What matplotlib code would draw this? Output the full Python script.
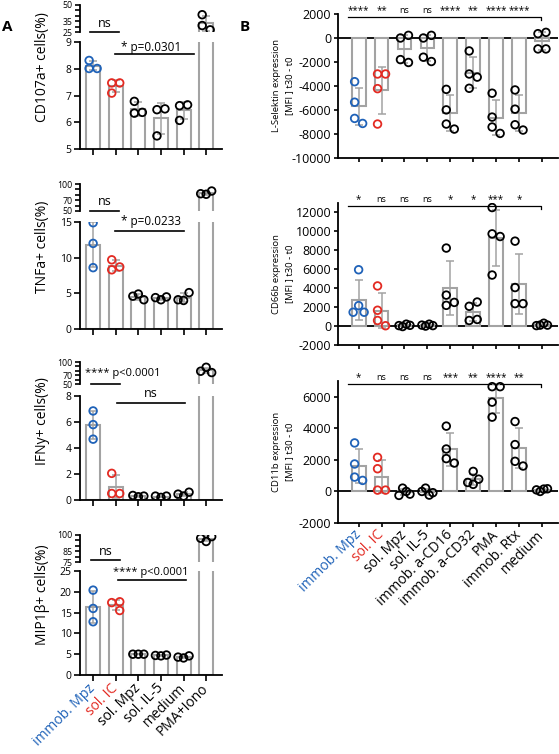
import numpy as np
import matplotlib
matplotlib.use('Agg')
import matplotlib.pyplot as plt
from matplotlib.transforms import blended_transform_factory

plt.rcParams['font.family'] = ['Open Sans', 'DejaVu Sans']

# ---- data ----
groups_a = ['immob. Mpz', 'sol. IC', 'sol. Mpz', 'sol. IL-5', 'medium', 'PMA+Iono']
cd107a = [[8.31, 8.01, 8.01], [7.47, 7.47, 7.09], [6.78, 6.34, 6.37],
          [6.47, 6.50, 5.49], [6.62, 6.65, 6.07], [41, 31, 27]]
tnfa = [[14.9, 12.0, 8.6], [9.7, 8.3, 8.7], [4.9, 4.1, 4.6],
        [4.1, 4.5, 4.4], [4.0, 5.1, 4.1], [81, 87, 82]]
ifny = [[6.85, 5.8, 4.68], [2.05, 0.5, 0.5], [0.25, 0.3, 0.35],
        [0.2, 0.3, 0.3], [0.3, 0.6, 0.45], [88, 76, 79]]
mip1b = [[20.4, 16.0, 12.8], [17.4, 17.6, 15.5], [5.0, 5.0, 5.0],
         [4.6, 4.8, 4.7], [4.1, 4.6, 4.3], [94, 98.5, 97]]

groups_b = ['immob. Mpz', 'sol. IC', 'sol. Mpz', 'sol. IL-5', 'immob. a-CD16',
            'immob. a-CD32', 'PMA', 'immob. Rtx', 'medium']
lsel = [[-3640, -5350, -6700, -7120], [-3000, -3000, -4220, -7170],
        [0, 220, -1800, -2040], [0, 220, -1600, -1960],
        [-4280, -5990, -7170, -7590], [-1080, -3000, -3260, -4190],
        [-4600, -6590, -7420, -7950], [-4330, -5930, -7230, -7670],
        [360, 470, -910, -910]]
cd66b = [[5950, 2160, 1460, 1460], [4240, 1670, 590, 35],
         [-50, 200, 50, 80], [0, 200, 100, 50],
         [8240, 3270, 2500, 2190], [2090, 2540, 590, 700],
         [12520, 9740, 9460, 5390], [8970, 4070, 2370, 2370],
         [100, 300, 50, 100]]
cd11b = [[3075, 1740, 910, 700], [2160, 1440, 85, 85],
         [210, 0, -250, -170], [210, -230, 0, -80],
         [4140, 2690, 2080, 1800], [1270, 780, 450, 570],
         [6640, 6640, 5660, 4710], [4430, 2970, 1910, 1610],
         [0, 150, 100, 170]]

sig_b_lsel = ['****', '**', 'ns', 'ns', '****', '**', '****', '****']
sig_b_cd66b = ['*', 'ns', 'ns', 'ns', '*', '*', '***', '*']
sig_b_cd11b = ['*', 'ns', 'ns', 'ns', '***', '**', '****', '**']

BLUE = '#1f62b8'
RED = '#e32a22'
GRAY = '#a3a3a3'
W, H = 559, 754

fig = plt.figure(figsize=(W / 100, H / 100), dpi=100)


def px_axes(x0, y0, x1, y1):
    return fig.add_axes([x0 / W, 1 - y1 / H, (x1 - x0) / W, (y1 - y0) / H])


def point_color(i):
    return BLUE if i == 0 else (RED if i == 1 else 'black')


def swarm(ax, xc, vals, step=8.0, near=8.0, maxspread=11.0):
    # simple beeswarm in display pixels
    pts = ax.transData.transform(np.column_stack([np.full(len(vals), xc), vals]))
    placed = []
    offs = []
    trials = [0]
    for j in range(1, 6):
        trials += [j * step, -j * step]
    for px, py in pts:
        for dx in trials:
            if all(np.hypot(px + dx - qx, py - qy) >= near for qx, qy in placed):
                break
        placed.append((px + dx, py))
        offs.append(dx)
    offs = np.array(offs, dtype=float)
    offs -= (offs.max() + offs.min()) / 2
    spread = offs.max() - offs.min()
    if spread > maxspread:
        offs *= maxspread / spread
    xs = ax.transData.inverted().transform(
        np.column_stack([pts[:, 0] + offs, pts[:, 1]]))[:, 0]
    return xs


def draw_groups(ax, data, width):
    x = np.arange(len(data))
    means = [np.mean(v) for v in data]
    sds = [np.std(v, ddof=1) for v in data]
    ax.bar(x, means, width=width, color='white', edgecolor=GRAY, linewidth=1.5, zorder=2)
    ax.errorbar(x, means, yerr=sds, fmt='none', ecolor=GRAY, elinewidth=1.1,
                capsize=3, capthick=1.1, zorder=3)
    for i, v in enumerate(data):
        xs = swarm(ax, i, v)
        ax.scatter(xs, v, s=30, facecolors='none', edgecolors=point_color(i),
                   linewidths=1.3, zorder=4, clip_on=True)


def style(ax):
    for s in ['top', 'right']:
        ax.spines[s].set_visible(False)
    for s in ['left', 'bottom']:
        ax.spines[s].set_linewidth(1.3)
    ax.tick_params(direction='out', length=4, width=1.2, labelsize=7.5, pad=2)


# ---- panel A: broken axes ----
a_specs = [
    (cd107a, 'CD107a+ cells(%)', (5, 32, 42, 149), (25, 50), [25, 30, 35, 40, 45, 50],
     ['25', '', '35', '', '', '50'], (5, 9), [5, 6, 7, 8, 9]),
    (tnfa, 'TNFa+ cells(%)', (184, 211, 222, 329), (50, 100), [50, 60, 70, 80, 90, 100],
     ['50', '', '70', '', '', '100'], (0, 15), [0, 5, 10, 15]),
    (ifny, 'IFNy+ cells(%)', (362, 384, 396, 500), (50, 100), [50, 60, 70, 80, 90, 100],
     ['50', '', '70', '', '', '100'], (0, 8), [0, 2, 4, 6, 8]),
    (mip1b, 'MIP1β+ cells(%)', (535, 562, 571, 675), (75, 100), [75, 80, 85, 90, 95, 100],
     ['75', '', '85', '', '', '100'], (0, 25), [0, 5, 10, 15, 20, 25]),
]

a_axes = []
for data, label, (t0, t1, b0, b1), tlim, tt, ttl, blim, bt in a_specs:
    axt = px_axes(80, t0, 222, t1)
    axb = px_axes(80, b0, 222, b1)
    for ax, lim in [(axt, tlim), (axb, blim)]:
        ax.set_xlim(-0.58, 5.7)
        ax.set_ylim(*lim)
        style(ax)
        draw_groups(ax, data, 0.62)
    axt.spines['bottom'].set_visible(False)
    axt.set_xticks([])
    axt.set_yticks(tt)
    axt.set_yticklabels(ttl)
    axt.tick_params(axis='y', labelsize=6.3, length=3.5)
    axb.set_yticks(bt)
    axb.set_xticks(range(6))
    axb.set_xticklabels([])
    axb.set_ylabel(label, fontsize=10)
    center_px = (t0 + b1) / 2 - 10
    axb.yaxis.set_label_coords(-0.21, (b1 - center_px) / (b1 - b0))
    a_axes.append((axt, axb))

# category labels for panel A
axb = a_axes[-1][1]
axb.set_xticklabels(groups_a, rotation=45, ha='right', va='center',
                    rotation_mode='anchor', fontsize=10)
for i, t in enumerate(axb.get_xticklabels()):
    t.set_color(point_color(i))
axb.tick_params(axis='x', pad=4)


# significance annotations (panel A)
def bracket(ax, x0, x1, y, text, ty, tx=None, fs=8.5):
    ax.plot([x0, x1], [y, y], color='black', lw=1.2, clip_on=False, zorder=5)
    if tx is None:
        ax.text((x0 + x1) / 2, ty, text, ha='center', va='center', fontsize=fs, clip_on=False)
    else:
        ax.text(tx, ty, text, ha='left', va='center', fontsize=fs, clip_on=False)


axt, axb = a_axes[0]
bracket(axt, -0.15, 1.15, 25.3, 'ns', 33, fs=9)
bracket(axb, 0.95, 4.45, 8.54, '* p=0.0301', 8.8, tx=1.25)
axt, axb = a_axes[1]
bracket(axt, -0.15, 1.15, 50.6, 'ns', 68, fs=9)
bracket(axb, 0.95, 4.0, 13.7, '* p=0.0233', 15.0, tx=1.25)
axt, axb = a_axes[2]
bracket(axt, -0.1, 1.2, 50.5, '**** p<0.0001', 74, tx=-0.38, fs=8)
bracket(axb, 1.05, 4.05, 7.46, 'ns', 8.23, fs=9)
axt, axb = a_axes[3]
bracket(axt, -0.1, 1.2, 76.9, 'ns', 84.3, fs=9)
bracket(axb, 1.1, 4.1, 22.8, '**** p<0.0001', 24.6, tx=0.9, fs=8)

# ---- panel B ----
b_specs = [
    (lsel, 'L-Selektin expression\n[MFI ] t30 - t0', (14, 158), (-10000, 2000),
     np.arange(-10000, 2001, 2000), sig_b_lsel),
    (cd66b, 'CD66b expression\n[MFI ] t30 - t0', (203, 345), (-2000, 13000),
     np.arange(-2000, 12001, 2000), sig_b_cd66b),
    (cd11b, 'CD11b expression\n[MFI ] t30 - t0', (381, 523), (-2000, 7000),
     np.arange(-2000, 6001, 2000), sig_b_cd11b),
]
b_axes = []
for data, label, (y0, y1), lim, ticks, sig in b_specs:
    ax = px_axes(338, y0, 558, y1)
    ax.set_xlim(-0.9, 8.7)
    ax.set_ylim(*lim)
    style(ax)
    ax.tick_params(labelsize=9, length=3)
    ax.axhline(0, color='black', lw=1.3, zorder=1)
    draw_groups(ax, data, 0.6)
    ax.set_yticks(ticks)
    ax.set_yticklabels([f'{t:d}' for t in ticks])
    ax.set_xticks(range(9))
    ax.set_xticklabels([])
    ax.set_ylabel(label, fontsize=6.8, linespacing=1.6)
    ax.yaxis.set_label_coords(-0.2, 0.5)
    # bracket to medium with stars
    tr = blended_transform_factory(ax.transData, ax.transAxes)
    hpx = y1 - y0
    top = 1 - 2.5 / hpx
    ax.plot([-0.45, 7.95, 7.95], [top, top, top - 3 / hpx], transform=tr,
            color='black', lw=0.9, clip_on=False)
    for i, s in enumerate(sig):
        ax.text(i, top + 6 / hpx, s, transform=tr, ha='center', va='center',
                fontsize=6.5 if s == 'ns' else 7, clip_on=False)
    b_axes.append(ax)

ax = b_axes[-1]
ax.set_xticklabels(groups_b, rotation=45, ha='right', va='center',
                   rotation_mode='anchor', fontsize=10)
for i, t in enumerate(ax.get_xticklabels()):
    t.set_color(point_color(i))
ax.tick_params(axis='x', pad=4)

fig.text(7 / W, 1 - 27 / H, 'A', fontsize=11, fontweight='bold', ha='center', va='center')
fig.text(245 / W, 1 - 27 / H, 'B', fontsize=11, fontweight='bold', ha='center', va='center')

fig.savefig('out.png', dpi=100)
